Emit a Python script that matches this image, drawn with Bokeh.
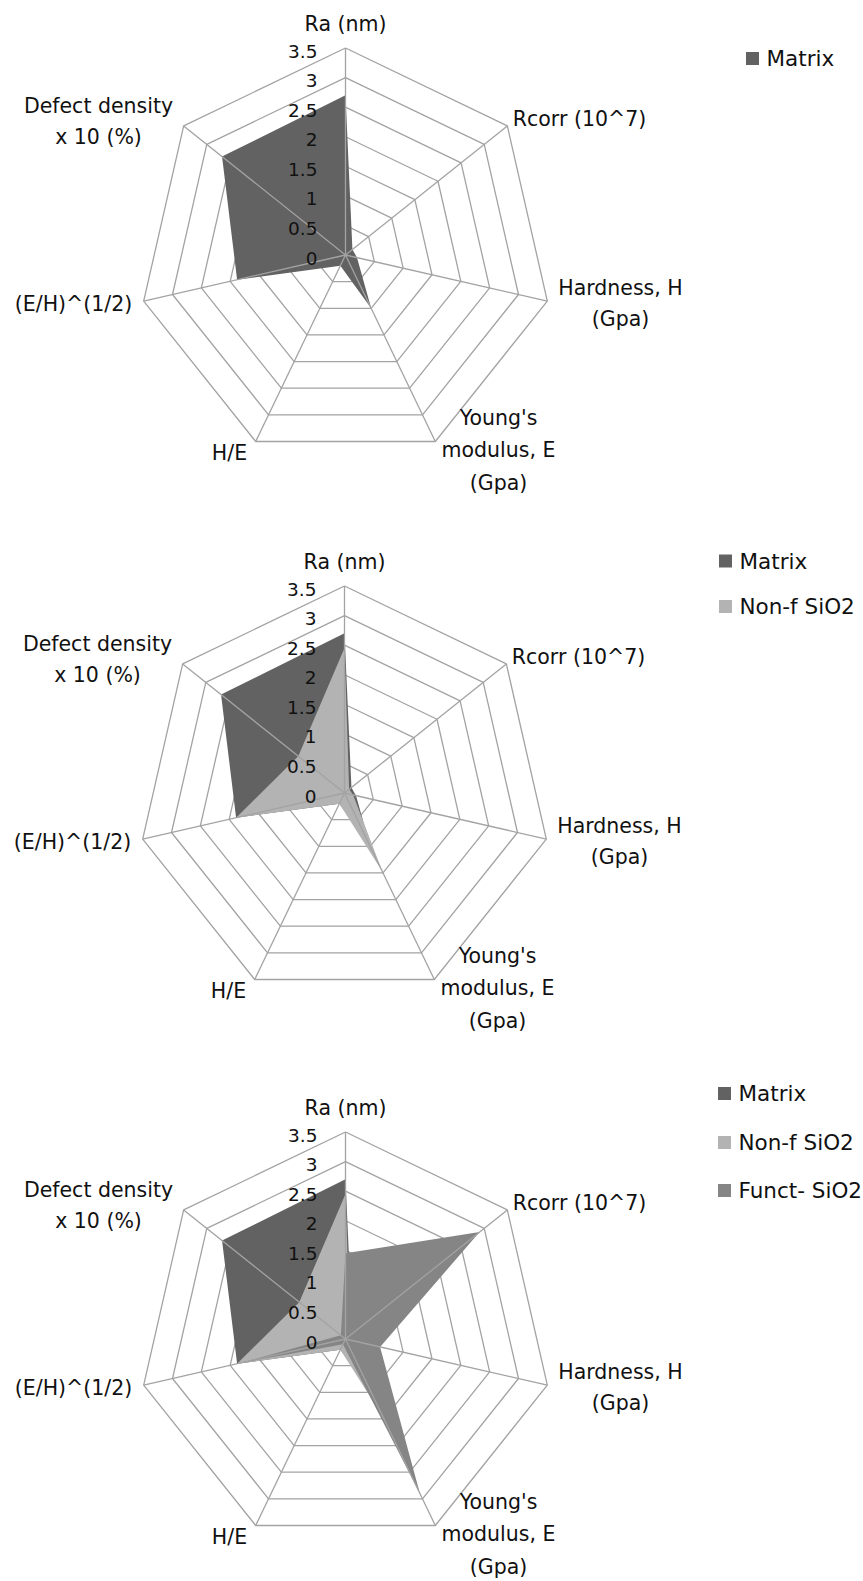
import numpy as np
from bokeh.plotting import figure
from bokeh.models import Range1d
from bokeh.core.properties import value
from bokeh.embed import file_html
from bokeh.resources import INLINE

# ---------------- data ----------------
categories = [
    ["Ra (nm)"],
    ["Rcorr (10^7)"],
    ["Hardness, H", "(Gpa)"],
    ["Young's", "modulus, E", "(Gpa)"],
    ["H/E"],
    ["(E/H)^(1/2)"],
    ["Defect density", "x 10 (%)"],
]
matrix = [2.70, 0.15, 0.20, 1.00, 0.20, 1.88, 2.67]
non_f_sio2 = [2.45, 0.10, 0.15, 1.48, 0.20, 1.88, 1.00]
funct_sio2 = [1.45, 2.90, 0.60, 2.90, 0.10, 1.85, 0.10]
series_names = ["Matrix", "Non-f SiO2", "Funct- SiO2"]
series_values = [matrix, non_f_sio2, funct_sio2]
tick_values = [0, 0.5, 1, 1.5, 2, 2.5, 3, 3.5]
tick_labels = ["0", "0.5", "1", "1.5", "2", "2.5", "3", "3.5"]
r_max = 3.5

# ---------------- style / layout ----------------
colors = ["#626262", "#b3b3b3", "#858585"]
grid_color = "#a3a3a3"
FONT = value("DejaVu Sans")
W, H = 863, 1581
centers = [(345.0, 254.5), (344.0, 792.5), (345.0, 1338.5)]
R = 207.0  # pixels for r_max
# label anchor offsets (dx, dy of first line), line spacing
label_pos = [(0, -231, 31), (234, -136, 31), (275, 32.5, 31.5), (153, 162.5, 32.5),
             (-116, 197.5, 31), (-272, 48.5, 31), (-247, -149.5, 31.5)]
legend_layout = [
    (745, [58.0]),
    (718, [560.5, 606.0]),
    (717, [1093.0, 1142.0, 1190.0]),
]

p = figure(width=W, height=H, output_backend="svg", toolbar_location=None,
           x_range=Range1d(0, W), y_range=Range1d(H, 0),
           x_axis_location=None, y_axis_location=None, min_border=0,
           background_fill_color="white", border_fill_color="white")
p.grid.visible = False
p.outline_line_color = None

n = len(categories)
ang = np.arange(n) * 2 * np.pi / n


def pts(cx, cy, vals):
    v = np.asarray(vals, dtype=float) / r_max * R
    return list(cx + v * np.sin(ang)), list(cy - v * np.cos(ang))


for k, (cx, cy) in enumerate(centers):
    # rings
    for t in tick_values[1:]:
        xs, ys = pts(cx, cy, [t] * n)
        p.line(xs + xs[:1], ys + ys[:1], line_color=grid_color, line_width=1.3)
    # series polygons
    for s in range(k + 1):
        xs, ys = pts(cx, cy, series_values[s])
        p.patch(xs, ys, fill_color=colors[s], line_color=None)
    # spokes
    ox, oy = pts(cx, cy, [r_max] * n)
    p.segment(x0=[cx] * n, y0=[cy] * n, x1=ox, y1=oy, line_color=grid_color, line_width=1.3)
    # tick labels
    tx = [cx - 28] * len(tick_values)
    ty = [cy - t / r_max * R + 3 for t in tick_values]
    p.text(x=tx, y=ty, text=tick_labels, text_align="right", text_baseline="middle",
           text_font=FONT, text_font_size="18.5px", text_color="#111111")
    # category labels
    lx, ly, lt = [], [], []
    for (dx, dy, sp), lines in zip(label_pos, categories):
        for j, line in enumerate(lines):
            lx.append(cx + dx)
            ly.append(cy + dy + j * sp)
            lt.append(line)
    p.text(x=lx, y=ly, text=lt, text_align="center", text_baseline="middle",
           text_font=FONT, text_font_size="20.5px", text_color="#111111")
    # legend
    lgx, lgys = legend_layout[k]
    for s, yy in enumerate(lgys):
        p.scatter(x=[lgx + 7], y=[yy], marker="square", size=13,
                  fill_color=colors[s], line_color=None)
        p.text(x=[lgx + 21], y=[yy], text=[series_names[s]], text_align="left",
               text_baseline="middle", text_font=FONT, text_font_size="21.5px",
               text_color="#111111")

open("out.html", "w").write(file_html(p, INLINE))
